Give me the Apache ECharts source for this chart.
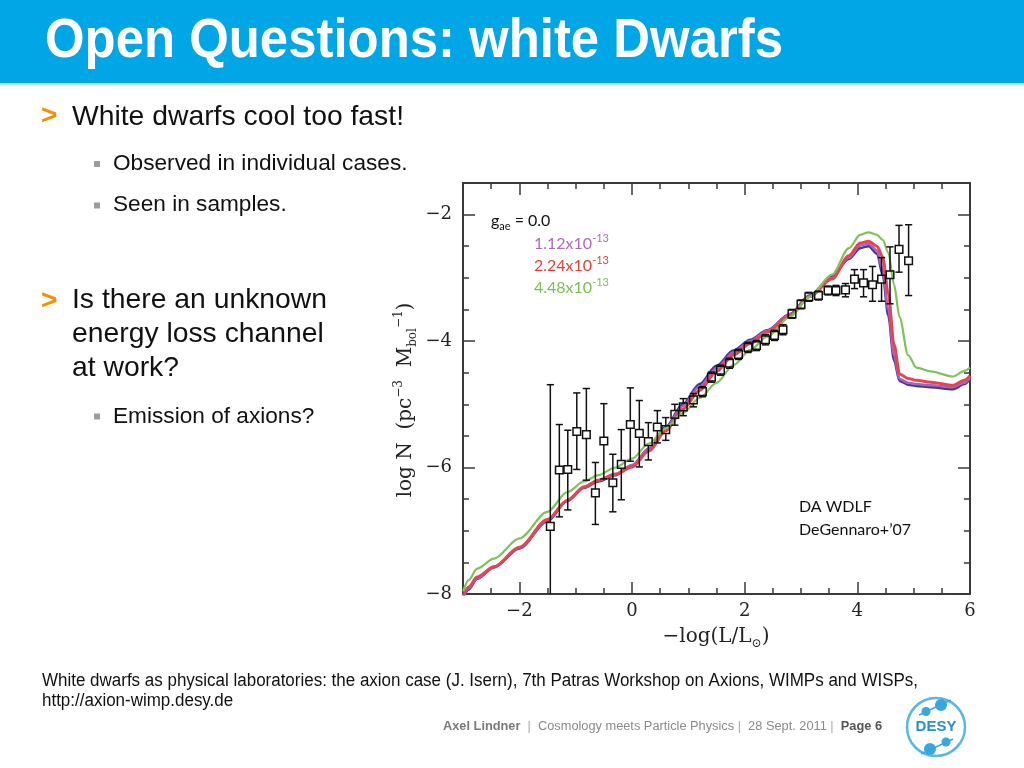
<!DOCTYPE html>
<html><head><meta charset="utf-8">
<script src="https://cdn.jsdelivr.net/npm/echarts@6/dist/echarts.min.js"></script>
<style>html,body{margin:0;padding:0;background:#fff}#c{width:1024px;height:768px}</style>
</head><body><div id="c"></div>
<script>
// ---- data ----
const obsX  = [-1.45,-1.29,-1.14,-0.98,-0.81,-0.65,-0.50,-0.34,-0.19,-0.03,0.13,0.29,0.45,0.60,0.76,0.91,1.09,1.25,1.41,1.57,1.73,1.89,2.06,2.21,2.37,2.53,2.68,2.84,3.00,3.14,3.31,3.48,3.62,3.79,3.95,4.11,4.27,4.43,4.58,4.74,4.91];
const obsY  = [-6.93,-6.04,-6.03,-5.43,-5.48,-6.40,-5.58,-6.24,-5.95,-5.32,-5.46,-5.59,-5.36,-5.40,-5.16,-5.04,-4.93,-4.80,-4.57,-4.46,-4.35,-4.21,-4.10,-4.07,-3.98,-3.91,-3.82,-3.57,-3.42,-3.30,-3.28,-3.20,-3.20,-3.19,-3.02,-3.08,-3.11,-3.02,-2.95,-2.55,-2.73];
const obsHi = [-4.69,-5.32,-5.41,-4.82,-4.75,-5.92,-4.99,-5.79,-5.40,-4.74,-4.94,-5.29,-5.10,-5.21,-5.00,-4.91,-4.83,-4.72,-4.49,-4.38,-4.27,-4.13,-4.02,-3.99,-3.90,-3.83,-3.74,-3.50,-3.35,-3.23,-3.21,-3.13,-3.12,-3.09,-2.87,-2.87,-2.82,-2.68,-2.51,-2.17,-2.16];
const obsLo = [-8.50,-6.78,-6.67,-6.03,-6.20,-6.90,-6.18,-6.70,-6.51,-5.90,-5.99,-5.88,-5.61,-5.57,-5.33,-5.18,-5.04,-4.88,-4.65,-4.54,-4.43,-4.29,-4.18,-4.15,-4.06,-3.99,-3.90,-3.64,-3.49,-3.37,-3.35,-3.27,-3.28,-3.30,-3.17,-3.30,-3.37,-3.37,-3.41,-2.91,-3.28];

const curveX    = [-3.0,-2.9,-2.75,-2.45,-2.0,-1.5,-1.15,-0.85,-0.6,-0.3,0.0,0.3,0.6,0.9,1.2,1.5,1.8,2.1,2.4,2.8,3.15,3.55,3.85,4.05,4.2,4.35,4.45,4.55,4.65,4.75,4.9,5.05,5.3,5.7,5.9,6.0];
const curveG000 = [-8.08,-7.93,-7.76,-7.58,-7.28,-6.85,-6.53,-6.32,-6.22,-6.12,-5.98,-5.70,-5.36,-5.00,-4.68,-4.39,-4.15,-3.98,-3.83,-3.57,-3.28,-2.98,-2.70,-2.53,-2.50,-2.62,-2.95,-3.60,-4.30,-4.63,-4.69,-4.71,-4.73,-4.76,-4.68,-4.60];
const curveG112 = [-8.06,-7.91,-7.75,-7.57,-7.27,-6.83,-6.52,-6.30,-6.20,-6.10,-5.96,-5.70,-5.38,-5.03,-4.72,-4.43,-4.18,-4.00,-3.84,-3.58,-3.29,-3.00,-2.68,-2.49,-2.46,-2.57,-2.87,-3.50,-4.22,-4.60,-4.66,-4.68,-4.70,-4.73,-4.66,-4.58];
const curveG224 = [-8.04,-7.89,-7.73,-7.57,-7.26,-6.82,-6.52,-6.31,-6.20,-6.11,-5.99,-5.74,-5.42,-5.08,-4.78,-4.48,-4.22,-4.04,-3.86,-3.60,-3.30,-3.02,-2.65,-2.45,-2.42,-2.50,-2.67,-3.25,-4.05,-4.52,-4.59,-4.62,-4.65,-4.70,-4.62,-4.55];
const curveG448 = [-7.96,-7.78,-7.60,-7.44,-7.12,-6.70,-6.39,-6.22,-6.12,-6.00,-5.86,-5.62,-5.38,-5.14,-4.90,-4.66,-4.38,-4.14,-3.93,-3.62,-3.30,-2.95,-2.53,-2.32,-2.28,-2.32,-2.40,-2.60,-3.10,-3.62,-4.22,-4.42,-4.48,-4.56,-4.47,-4.42];

const xMajorTicks = [-2, 0, 2, 4, 6];
const yMajorTicks = [-8, -6, -4, -2];

// ---- helpers ----
const mctx = document.createElement('canvas').getContext('2d');
function tw(t, font){ mctx.font = font; return mctx.measureText(t).width; }
const SANS = '"Liberation Sans", Arial, Helvetica, sans-serif';
const SERIF = '"DejaVu Serif", serif';
const LATO = 'Lato, "Open Sans", sans-serif';

function txt(x, y, text, font, fill, extra) {
  return Object.assign({
    type: 'text', x: x, y: y, silent: true, z: 100,
    style: { text: text, font: font, fill: fill, align: 'left', verticalAlign: 'middle', textAlign: 'left', textVerticalAlign: 'middle' }
  }, extra || {});
}
function fitScale(text, font, target){ return target / tw(text, font); }

const graphics = [];
// title bar
graphics.push({type:'rect', silent:true, z:90, shape:{x:0,y:0,width:1024,height:83}, style:{fill:'#00a6e6'}});
graphics.push({type:'rect', silent:true, z:90, shape:{x:0,y:83,width:1024,height:2}, style:{fill:'#bde5f6'}});
const titleText = 'Open Questions: white Dwarfs';
const titleFont = 'bold 55px ' + SANS;
graphics.push(txt(45, 42, titleText, titleFont, '#ffffff', {scaleX: fitScale(titleText, titleFont, 738)}));

// bullets
const f28 = '28px ' + SANS, f22 = '22.5px ' + SANS, fArrow = 'bold 28px ' + SANS;
const orange = '#f39200';
graphics.push(txt(41, 116, '>', fArrow, orange));
const l1 = 'White dwarfs cool too fast!';
const s28 = fitScale(l1, f28, 332);
graphics.push(txt(72, 117, l1, f28, '#111', {scaleX: s28}));
const subs = [['Observed in individual cases.', 164, 161], ['Seen in samples.', 205, 202.5], ['Emission of axions?', 416.5, 413.5]];
const s22 = fitScale(subs[0][0], f22, 294.5);
subs.forEach(s => {
  graphics.push({type:'rect', silent:true, z:100, shape:{x:94,y:s[2],width:6,height:6}, style:{fill:'#9c9c9c'}});
  graphics.push(txt(113, s[1], s[0], f22, '#111', {scaleX: s22}));
});
graphics.push(txt(41, 301, '>', fArrow, orange));
[['Is there an unknown', 300.5], ['energy loss channel', 334], ['at work?', 368]].forEach(l => {
  graphics.push(txt(72, l[1], l[0], f28, '#111', {scaleX: s28}));
});

// reference lines
const refFont = '18px ' + SANS;
const ref1 = 'White dwarfs as physical laboratories: the axion case (J. Isern), 7th Patras Workshop on Axions, WIMPs and WISPs,';
const sRef = fitScale(ref1, refFont, 876);
graphics.push(txt(42, 681, ref1, refFont, '#111', {scaleX: sRef}));
graphics.push(txt(42, 701, 'http://axion-wimp.desy.de', refFont, '#111', {scaleX: sRef}));

// footer
const ff = 12.5;
const footSegs = [
  ['Axel Lindner', 'bold ' + ff + 'px ' + SANS, '#7a7a7a', 'b'],
  ['  |  ', ff + 'px ' + SANS, '#aaaaaa', 's'],
  ['Cosmology meets Particle Physics', ff + 'px ' + SANS, '#8a8a8a', 'n'],
  [' |  ', ff + 'px ' + SANS, '#aaaaaa', 's'],
  ['28 Sept. 2011', ff + 'px ' + SANS, '#8a8a8a', 'n'],
  [' |  ', ff + 'px ' + SANS, '#aaaaaa', 's'],
  ['Page 6', 'bold ' + ff + 'px ' + SANS, '#555555', 'p']
];
let footW = 0; footSegs.forEach(s => footW += tw(s[0], s[1]));
const footRich = {};
footSegs.forEach(s => { footRich[s[3]] = {font: s[1], fill: s[2]}; });
graphics.push({type:'text', x:443, y:727, silent:true, z:100, scaleX: 439 / footW,
  style:{text: footSegs.map(s => '{' + s[3] + '|' + s[0] + '}').join(''), rich: footRich, align:'left', verticalAlign:'middle', textAlign:'left', textVerticalAlign:'middle'}});

// DESY logo
const logoBlue = '#3aa6df';
graphics.push({type:'circle', silent:true, z:100, shape:{cx:936, cy:727, r:29}, style:{fill:'#fff', stroke:'#5ab6e4', lineWidth:2.5}});
graphics.push({type:'line', silent:true, z:100, shape:{x1:919,y1:715,x2:951,y2:700}, style:{stroke:logoBlue, lineWidth:1.5}});
graphics.push({type:'line', silent:true, z:100, shape:{x1:921,y1:754,x2:953,y2:739}, style:{stroke:logoBlue, lineWidth:1.5}});
graphics.push({type:'circle', silent:true, z:101, shape:{cx:926, cy:711.5, r:4.5}, style:{fill:logoBlue}});
graphics.push({type:'circle', silent:true, z:101, shape:{cx:941, cy:705, r:6}, style:{fill:logoBlue}});
graphics.push({type:'circle', silent:true, z:101, shape:{cx:930, cy:749, r:6}, style:{fill:logoBlue}});
graphics.push({type:'circle', silent:true, z:101, shape:{cx:946, cy:742, r:4.5}, style:{fill:logoBlue}});
graphics.push({type:'text', x:936, y:727, silent:true, z:102, style:{text:'DESY', font:'bold 15px ' + SANS, fill:'#2a8fd0', stroke:'#fff', lineWidth:2, align:'center', verticalAlign:'middle', textAlign:'center', textVerticalAlign:'middle'}});

// in-plot legend texts
const legendRows = [
  ['{b|1.12x10}{p|-13}', '#b06ab8', 244],
  ['{b|2.24x10}{p|-13}', '#e63f3a', 266],
  ['{b|4.48x10}{p|-13}', '#78bf55', 288]
];
graphics.push({type:'text', x:491, y:221, silent:true, z:100,
  style:{text:'{b|g}{s|ae}{b| = 0.0}', align:'left', verticalAlign:'middle', textAlign:'left', textVerticalAlign:'middle',
    rich:{b:{font:'16px ' + LATO, fill:'#111', lineHeight:22}, s:{font:'11px ' + LATO, fill:'#111', lineHeight:12, verticalAlign:'bottom'}}}});
legendRows.forEach(r => {
  graphics.push({type:'text', x:534, y:r[2], silent:true, z:100,
    style:{text:r[0], align:'left', verticalAlign:'middle', textAlign:'left', textVerticalAlign:'middle',
      rich:{b:{font:'16px ' + LATO, fill:r[1], lineHeight:22}, p:{font:'11px ' + LATO, fill:r[1], lineHeight:12, verticalAlign:'top'}}}});
});
graphics.push(txt(799, 507, 'DA WDLF', '16px ' + LATO, '#111'));
graphics.push(txt(799, 530, 'DeGennaro+\u201907', '16px ' + LATO, '#111'));

// axis names
graphics.push({type:'text', x:716, y:637, silent:true, z:100,
  style:{text:'{b|\u2212log(L/L}{s|\u2299}{b|)}', align:'center', verticalAlign:'middle', textAlign:'center', textVerticalAlign:'middle',
    rich:{b:{font:'20px ' + SERIF, fill:'#222', lineHeight:26}, s:{font:'12px ' + SERIF, fill:'#222', lineHeight:12, verticalAlign:'bottom'}}}});
graphics.push({type:'text', x:406, y:400, rotation: Math.PI/2, silent:true, z:100,
  style:{text:'{b|log N  (pc}{p|\u22123}{b|  M}{s|bol}{p|\u22121}{b|)}', align:'center', verticalAlign:'middle', textAlign:'center', textVerticalAlign:'middle',
    rich:{b:{font:'20px ' + SERIF, fill:'#222', lineHeight:26}, p:{font:'12px ' + SERIF, fill:'#222', lineHeight:12, verticalAlign:'top'}, s:{font:'12px ' + SERIF, fill:'#222', lineHeight:12, verticalAlign:'bottom'}}}});

// ---- axes ----
const axLine = {show:true, onZero:false, lineStyle:{color:'#3a3a3a', width:2}};
const tickSt = {color:'#3a3a3a', width:1.5};
const fmt = v => String(v).replace('-', '\u2212');
function minorAxis(pos, min, max) {
  return {type:'value', position:pos, min:min, max:max, interval:0.5, axisLine:axLine,
    axisTick:{show:true, inside:true, length:6, lineStyle:tickSt}, axisLabel:{show:false}, splitLine:{show:false}};
}
function majorAxis(pos, min, max, ticks, showLabel, margin) {
  return {type:'value', position:pos, min:min, max:max, axisLine:{show:false, onZero:false},
    axisTick:{show:true, inside:true, length:12, customValues:ticks, lineStyle:tickSt},
    axisLabel:{show:showLabel, customValues:ticks, formatter:fmt, fontFamily:SERIF, fontSize:18, color:'#222', margin:margin},
    splitLine:{show:false}};
}

function lineSeries(ys, color, width, z) {
  return {type:'line', xAxisIndex:0, yAxisIndex:0, data: curveX.map((x, i) => [x, ys[i]]), showSymbol:false,
    smooth:0.3, smoothMonotone:'x', silent:true, z:z, lineStyle:{color:color, width:width}};
}

const option = {
  animation: false,
  backgroundColor: '#ffffff',
  grid: {left:463, top:183, width:507, height:411, containLabel:false},
  xAxis: [minorAxis('bottom', -3, 6), majorAxis('bottom', -3, 6, xMajorTicks, true, 8),
          minorAxis('top', -3, 6), majorAxis('top', -3, 6, xMajorTicks, false, 8)],
  yAxis: [minorAxis('left', -8, -1.5), majorAxis('left', -8, -1.5, yMajorTicks, true, 11),
          minorAxis('right', -8, -1.5), majorAxis('right', -8, -1.5, yMajorTicks, false, 11)],
  series: [
    lineSeries(curveG000, '#3f3b8e', 2.5, 2),
    lineSeries(curveG112, '#a862bf', 2.5, 3),
    lineSeries(curveG224, '#e8434f', 3, 4),
    lineSeries(curveG448, '#7cc459', 2.2, 5),
    {type:'custom', xAxisIndex:0, yAxisIndex:0, clip:true, z:10, silent:true,
      data: obsX.map((x, i) => [x, obsY[i], obsLo[i], obsHi[i]]),
      encode:{x:0, y:1},
      renderItem: function (params, api) {
        const x = api.value(0), y = api.value(1), lo = api.value(2), hi = api.value(3);
        const p = api.coord([x, y]), pl = api.coord([x, lo]), ph = api.coord([x, hi]);
        const s = 3.8, cap = 3.6, st = {stroke:'#111', lineWidth:1.5, fill:null};
        const ch = [];
        if (ph[1] < p[1] - s) ch.push({type:'line', shape:{x1:p[0], y1:ph[1], x2:p[0], y2:p[1]-s}, style:st});
        if (pl[1] > p[1] + s) ch.push({type:'line', shape:{x1:p[0], y1:p[1]+s, x2:p[0], y2:pl[1]}, style:st});
        ch.push({type:'line', shape:{x1:p[0]-cap, y1:ph[1], x2:p[0]+cap, y2:ph[1]}, style:st});
        ch.push({type:'line', shape:{x1:p[0]-cap, y1:pl[1], x2:p[0]+cap, y2:pl[1]}, style:st});
        ch.push({type:'rect', shape:{x:p[0]-s, y:p[1]-s, width:2*s, height:2*s}, style:{stroke:'#111', lineWidth:1.5, fill:'rgba(255,255,255,0)'}});
        return {type:'group', children: ch};
      }
    }
  ],
  graphic: {elements: graphics}
};

const chart = echarts.init(document.getElementById('c'), null, {width:1024, height:768});
chart.setOption(option);
</script>
</body></html>
